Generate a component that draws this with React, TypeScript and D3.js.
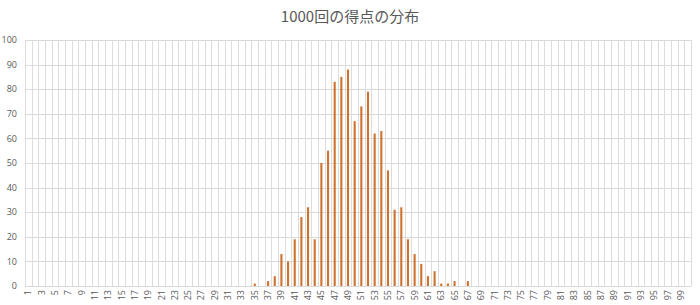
import React from "react";
import * as d3 from "d3";

const title = "1000回の得点の分布";
const categories: number[] = Array.from({ length: 100 }, (_, i) => i + 1);
const scoreKeys: number[] = [35, 37, 38, 39, 40, 41, 42, 43, 44, 45, 46, 47, 48, 49, 50, 51, 52, 53, 54, 55, 56, 57, 58, 59, 60, 61, 62, 63, 64, 65, 67];
const scoreCounts: number[] = [1, 2, 4, 13, 10, 19, 28, 32, 19, 50, 55, 83, 85, 88, 67, 73, 79, 62, 63, 47, 31, 32, 19, 13, 9, 4, 6, 1, 1, 2, 2];
const yTicks: number[] = [0, 10, 20, 30, 40, 50, 60, 70, 80, 90, 100];

const W = 700;
const H = 305;
const left = 25;
const right = 691;
const top = 40;
const bottom = 286;

export default function App() {
  const countMap = new Map<number, number>();
  scoreKeys.forEach((k, i) => countMap.set(k, scoreCounts[i]));
  const data = categories.map((c) => ({ c, v: countMap.get(c) ?? 0 }));

  const x = d3.scaleBand<number>().domain(categories).range([left, right]).paddingInner(0.686).paddingOuter(0.343);
  const xs = d3.scaleBand<number>().domain(categories).range([left, right]);
  const y = d3.scaleLinear().domain([0, 100]).range([bottom, top]);

  const step = xs.step();
  const vlines = d3.range(categories.length + 1).map((i) => Math.round(left + i * step) + 0.5);

  return (
    <svg width={W} height={H} style={{ position: "absolute", left: 0, top: 0, background: "#fff" }}>
      <rect x={0} y={0} width={W} height={H} fill="#fff" />
      <text x={350} y={22} textAnchor="middle" fontSize={15} fill="#595959" fontFamily="'Noto Sans CJK JP', 'Noto Sans', sans-serif">
        {title}
      </text>
      {yTicks.map((t) => (
        <line key={"h" + t} x1={left} x2={right} y1={Math.round(y(t)) + 0.5} y2={Math.round(y(t)) + 0.5} stroke="#d9d9d9" strokeWidth={1} />
      ))}
      {vlines.map((vx, i) => (
        <line key={"v" + i} x1={vx} x2={vx} y1={top} y2={bottom} stroke="#dcdcdc" strokeWidth={1} />
      ))}
      {yTicks.map((t) => (
        <text key={"yl" + t} x={17} y={y(t)} dy="0.35em" textAnchor="end" fontSize={9} fill="#595959" fontFamily="'Open Sans', 'Noto Sans', sans-serif">
          {t}
        </text>
      ))}
      {data.filter((d) => d.v > 0).map((d) => (
        <rect key={"b" + d.c} x={x(d.c)} y={y(d.v)} width={x.bandwidth()} height={bottom - y(d.v)} fill="#d0722e" />
      ))}
      {categories.filter((c) => c % 2 === 1).map((c) => {
        const cx = (xs(c) as number) + step / 2;
        return (
          <text key={"xl" + c} transform={`translate(${cx + 3},${290}) rotate(-90)`} textAnchor="end" fontSize={9} fill="#595959" fontFamily="'Open Sans', 'Noto Sans', sans-serif">
            {c}
          </text>
        );
      })}
    </svg>
  );
}
